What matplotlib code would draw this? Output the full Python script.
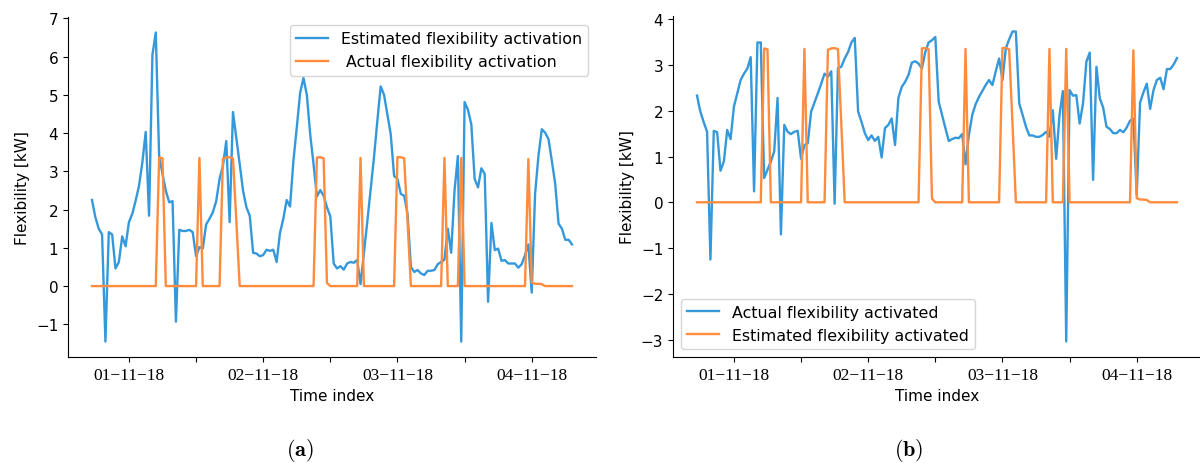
import matplotlib
matplotlib.use("Agg")
import matplotlib.pyplot as plt
import numpy as np

plt.rcParams['font.size'] = 11
plt.rcParams['mathtext.fontset'] = 'cm'

# flexibility estimated by the model (panel a, blue)
estimated_a = [
    2.25, 1.80, 1.50, 1.35, -1.45, 1.41, 1.35, 0.46, 0.63, 1.30,
    1.04, 1.67, 1.89, 2.23, 2.62, 3.23, 4.03, 1.84, 6.04, 6.63,
    3.40, 2.93, 2.49, 2.19, 2.22, -0.93, 1.47, 1.44, 1.44, 1.47,
    1.41, 0.78, 1.02, 0.98, 1.61, 1.76, 1.93, 2.22, 2.80, 3.14,
    3.79, 1.67, 4.55, 3.88, 3.19, 2.49, 2.06, 1.84, 0.87, 0.85,
    0.78, 0.81, 0.95, 0.92, 0.95, 0.63, 1.39, 1.76, 2.25, 2.08,
    3.27, 4.14, 5.05, 5.44, 5.00, 3.97, 3.19, 2.34, 2.51, 2.36,
    2.06, 1.82, 0.59, 0.46, 0.52, 0.43, 0.59, 0.63, 0.61, 0.68,
    0.05, 0.85, 1.67, 2.51, 3.36, 4.31, 5.22, 5.00, 4.48, 3.97,
    2.88, 2.80, 2.41, 2.36, 1.89, 0.50, 0.37, 0.42, 0.33, 0.29,
    0.40, 0.40, 0.42, 0.57, 0.63, 0.69, 1.50, 0.87, 2.49, 3.40,
    -1.45, 4.81, 4.61, 4.23, 2.80, 2.58, 3.08, 2.93, -0.41, 1.65,
    0.94, 0.98, 0.66, 0.68, 0.59, 0.59, 0.59, 0.48, 0.57, 0.81,
    1.09, -0.17, 2.41, 3.40, 4.10, 4.01, 3.84, 3.27, 2.67, 1.63,
    1.50, 1.21, 1.21, 1.09,
]

# flexibility actually activated (panel b, blue)
actual_b = [
    2.33, 1.98, 1.75, 1.54, -1.25, 1.56, 1.53, 0.69, 0.89, 1.58,
    1.38, 2.09, 2.38, 2.67, 2.81, 2.92, 3.17, 0.24, 3.49, 3.49,
    0.53, 0.71, 0.89, 1.11, 2.28, -0.70, 1.69, 1.54, 1.49, 1.54,
    1.56, 0.95, 1.25, 1.29, 1.98, 2.18, 2.38, 2.59, 2.81, 2.74,
    2.86, -0.03, 2.93, 2.96, 3.14, 3.28, 3.49, 3.59, 1.98, 1.76,
    1.51, 1.36, 1.46, 1.34, 1.43, 0.98, 1.62, 1.69, 1.83, 1.25,
    2.28, 2.52, 2.63, 2.78, 3.05, 3.08, 3.03, 2.92, 3.28, 3.49,
    3.54, 3.61, 2.20, 1.91, 1.62, 1.34, 1.38, 1.41, 1.40, 1.49,
    0.83, 1.47, 1.91, 2.14, 2.30, 2.43, 2.56, 2.67, 2.56, 2.86,
    3.14, 2.67, 3.36, 3.56, 3.73, 3.73, 2.16, 1.91, 1.65, 1.46,
    1.46, 1.43, 1.43, 1.47, 1.54, 1.43, 2.01, 0.95, 1.91, 2.43,
    -3.04, 2.45, 2.33, 2.34, 1.72, 2.16, 3.07, 3.27, 0.49, 2.96,
    2.27, 2.07, 1.65, 1.60, 1.51, 1.51, 1.58, 1.53, 1.63, 1.78,
    1.83, 0.17, 2.18, 2.40, 2.59, 2.04, 2.45, 2.67, 2.72, 2.47,
    2.91, 2.91, 3.01, 3.15,
]

# scheduled activation profile (orange, same in both panels)
activation = [
    0, 0, 0, 0, 0, 0, 0, 0, 0, 0,
    0, 0, 0, 0, 0, 0, 0, 0, 0, 0,
    3.36, 3.34, 0, 0, 0, 0, 0, 0, 0, 0,
    0, 0, 3.35, 0, 0, 0, 0, 0, 0, 3.33,
    3.36, 3.37, 3.34, 1.70, 0, 0, 0, 0, 0, 0,
    0, 0, 0, 0, 0, 0, 0, 0, 0, 0,
    0, 0, 0, 0, 0, 0, 0, 3.36, 3.37, 3.34,
    0.08, 0, 0, 0, 0, 0, 0, 0, 0, 0,
    3.35, 0, 0, 0, 0, 0, 0, 0, 0, 0,
    0, 3.37, 3.37, 3.34, 1.70, 0, 0, 0, 0, 0,
    0, 0, 0, 0, 0, 3.35, 0, 0, 0, 0,
    3.35, 0, 0, 0, 0, 0, 0, 0, 0, 0,
    0, 0, 0, 0, 0, 0, 0, 0, 0, 0,
    3.32, 0.09, 0.06, 0.06, 0.05, 0, 0, 0, 0, 0,
    0, 0, 0, 0,
]

day_labels = ['01-11-18', '02-11-18', '03-11-18', '04-11-18']

t = np.arange(len(estimated_a))
first_midnight = 11
steps_per_day = 40

blue = '#3498db'
orange = '#ff8b3d'

fig = plt.figure(figsize=(12, 4.64), dpi=100)
ax1 = fig.add_axes([68 / 1200, 106 / 464, 528 / 1200, 340 / 464])
ax2 = fig.add_axes([673 / 1200, 106 / 464, 528 / 1200, 341 / 464])

ax1.plot(t, estimated_a, color=blue, lw=1.7, label='Estimated flexibility activation')
ax1.plot(t, activation, color=orange, lw=1.7, label=' Actual flexibility activation')
ax1.legend(loc='upper right', fontsize=11.4)

ax2.plot(t, actual_b, color=blue, lw=1.7, label='Actual flexibility activated')
ax2.plot(t, activation, color=orange, lw=1.7, label='Estimated flexibility activated')
ax2.legend(loc='lower left', fontsize=11.4)

# day ticks carry the date, half-day ticks in between stay blank
tick_pos = first_midnight + np.arange(2 * len(day_labels) - 1) * steps_per_day / 2
tick_lab = []
for k in range(len(tick_pos)):
    if k % 2 == 0:
        tick_lab.append(day_labels[k // 2].replace('-', '\u2212'))
    else:
        tick_lab.append('')

for ax in (ax1, ax2):
    ax.spines['top'].set_visible(False)
    ax.spines['right'].set_visible(False)
    ax.set_xticks(tick_pos)
    ax.set_xticklabels(tick_lab, family='Liberation Serif', fontsize=12.5)
    ax.yaxis.set_major_locator(plt.MultipleLocator(1))
    ax.set_xlabel('Time index', fontsize=11)
    ax.set_ylabel('Flexibility [kW]', fontsize=11)

fig.text(0.25, 0.03, r'$\mathbf{(a)}$', ha='center', va='center', fontsize=16)
fig.text(0.757, 0.03, r'$\mathbf{(b)}$', ha='center', va='center', fontsize=16)

fig.savefig('out.png', dpi=100)
